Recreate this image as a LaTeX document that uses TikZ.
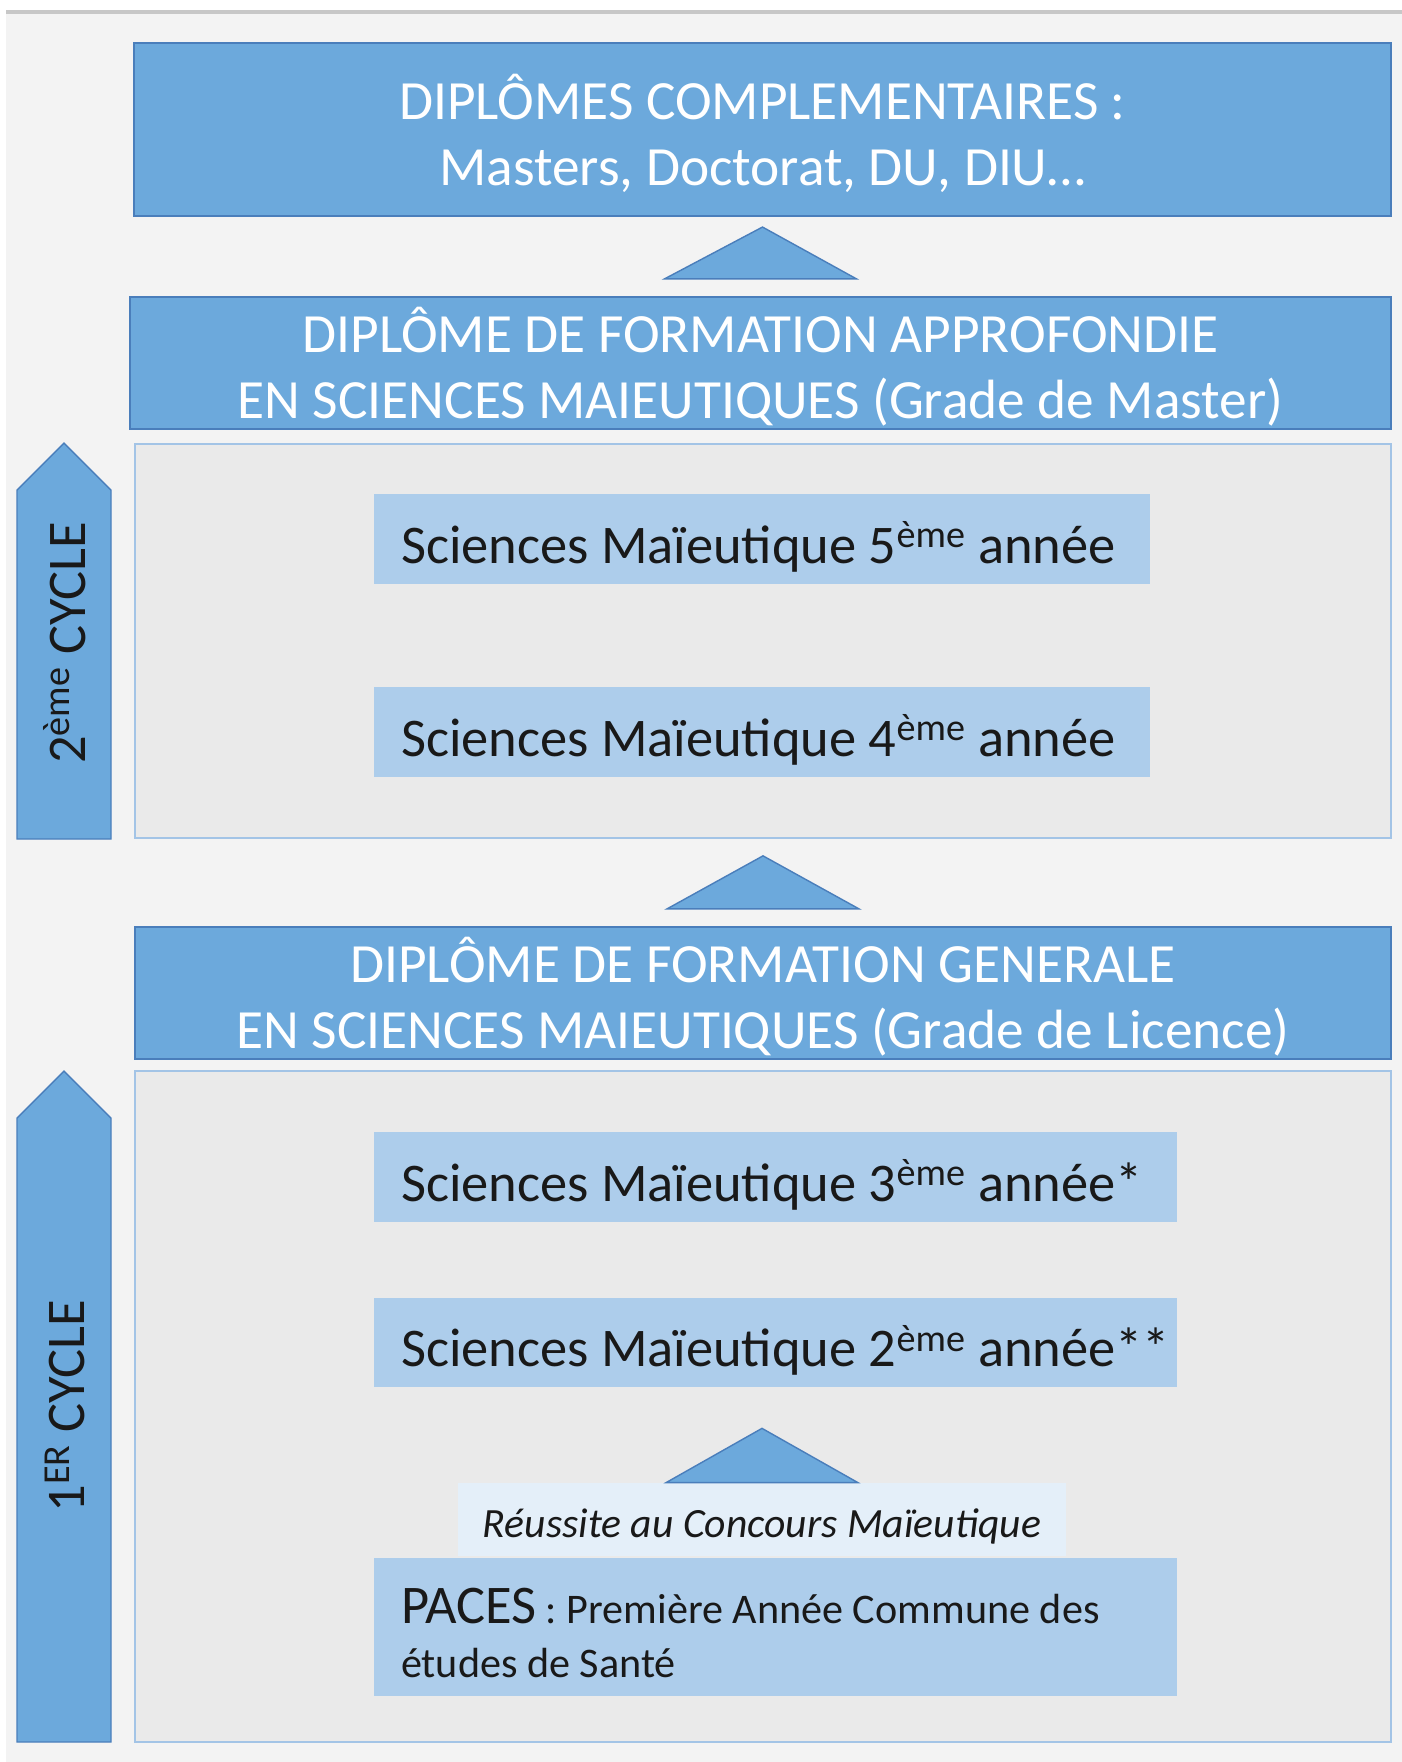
\documentclass[tikz,border=0pt]{standalone}
\usepackage{fontspec}
\setmainfont{Carlito}
\usetikzlibrary{calc}
\definecolor{darkbox}{HTML}{6CA9DC}
\definecolor{darkline}{HTML}{4A7EBB}
\definecolor{lightbox}{HTML}{ADCDEB}
\definecolor{panelgrey}{HTML}{EAEAEA}
\definecolor{panelline}{HTML}{A3C4E6}
\definecolor{pagegrey}{HTML}{F3F3F3}
\definecolor{notebox}{HTML}{E4EFF9}
\newcommand{\hd}{\fontsize{31.5}{37.6}\selectfont}
\newcommand{\yr}{\fontsize{31}{37}\selectfont}
% texte cale a gauche, un peu descendu
\newcommand{\lline}[2]{\raisebox{-4.5pt}[\height][\depth]{\makebox[#1][l]{#2}}}
% titre sur deux lignes
\newcommand{\two}[2]{\raisebox{-5.5pt}[\height][\depth]{\begin{tabular}{@{}c@{}}#1\\#2\end{tabular}}}

\begin{document}
\begin{tikzpicture}[x=0.02cm,y=-0.02cm,
  diplome/.style={fill=darkbox,draw=darkline,line width=1.2pt,inner sep=0pt,text=white,font=\hd},
  panel/.style={fill=panelgrey,draw=panelline,line width=1pt,inner sep=0pt,minimum width=25.12cm},
  annee/.style={fill=lightbox,inner sep=0pt,font=\yr,text=black!90},
  tri/.style={fill=darkbox,draw=darkline,line width=0.8pt},
  cyclearrow/.style={fill=darkbox,draw=darkline,line width=0.8pt},
  cyclelbl/.style={rotate=90,font=\fontsize{31}{37}\selectfont,text=black!90}]
   \useasboundingbox (0,0) rectangle (1402,1762);
   \fill[pagegrey] (6,12) rectangle (1402,1762);
   \draw[black!22,line width=2pt] (6,12) -- (1402,12);

   % diplomes
   \node[diplome,minimum width=25.14cm,minimum height=3.46cm] (dc) at (762.5,129.5)
      {\two{DIPLÔMES COMPLEMENTAIRES :}{Masters, Doctorat, DU, DIU…}};
   \node[diplome,minimum width=25.22cm,minimum height=2.56cm] (dfa) at (760.5,363)
      {\two{DIPLÔME DE FORMATION APPROFONDIE}{EN SCIENCES MAIEUTIQUES (Grade de Master)}};
   \node[diplome,minimum width=25.12cm,minimum height=2.64cm] (dfg) at (763,993)
      {\two{DIPLÔME DE FORMATION GENERALE}{EN SCIENCES MAIEUTIQUES (Grade de Licence)}};

   % 2eme cycle
   \node[panel,minimum height=7.88cm] (p2) at (763,641) {};
   \node[annee,minimum width=15.52cm,minimum height=1.8cm] (s5) at (762,539)
      {\lline{14.44cm}{Sciences Maïeutique 5\textsuperscript{ème} année}};
   \node[annee,minimum width=15.52cm,minimum height=1.8cm] (s4) at (762,732)
      {\lline{14.44cm}{Sciences Maïeutique 4\textsuperscript{ème} année}};

   % 1er cycle
   \node[panel,minimum height=13.42cm] (p1) at (763,1406.5) {};
   \node[annee,minimum width=16.06cm,minimum height=1.8cm] (s3) at (775.5,1177)
      {\lline{14.98cm}{Sciences Maïeutique 3\textsuperscript{ème} année*}};
   \node[annee,minimum width=16.06cm,minimum height=1.78cm] (s2) at (775.5,1342.5)
      {\lline{14.98cm}{Sciences Maïeutique 2\textsuperscript{ème} année**}};
   \node[annee,fill=notebox,font=\fontsize{23.7}{28}\selectfont\itshape,minimum width=12.16cm,minimum height=1.46cm] (reu) at (762,1519.5)
      {\raisebox{-4pt}[\height][\depth]{Réussite au Concours Maïeutique}};
   \node[annee,font=\fontsize{24}{30.7}\selectfont,minimum width=16.06cm,minimum height=2.76cm] (paces) at (775.5,1627)
      {\raisebox{-3.4pt}[\height][\depth]{\parbox{14.98cm}{\raggedright{\fontsize{31}{31}\selectfont PACES} : Première Année Commune des\\études de Santé}}};

   % passages
   \filldraw[tri] ($(dfa.north)+(-96,-17)$) -- ($(dc.south)+(0,10)$) -- ($(dfa.north)+(96,-17)$) -- cycle;
   \filldraw[tri] ($(dfg.north)+(-96,-17)$) -- ($(p2.south)+(0,17)$) -- ($(dfg.north)+(96,-17)$) -- cycle;
   \filldraw[tri] ($(reu.north)+(-96,0)$) -- ($(s2.south -| reu.north)+(0,41)$) -- ($(reu.north)+(96,0)$) -- cycle;

   % cycles
   \filldraw[cyclearrow] (17,839) -- (17,490) -- (64,443) -- (111,490) -- (111,839) -- cycle;
   \node[cyclelbl] (c2) at (65,643) {2\textsuperscript{ème} CYCLE};
   \filldraw[cyclearrow] (17,1742) -- (17,1118) -- (64,1071) -- (111,1118) -- (111,1742) -- cycle;
   \node[cyclelbl] (c1) at (65,1406) {1\textsuperscript{ER} CYCLE};
\end{tikzpicture}
\end{document}
